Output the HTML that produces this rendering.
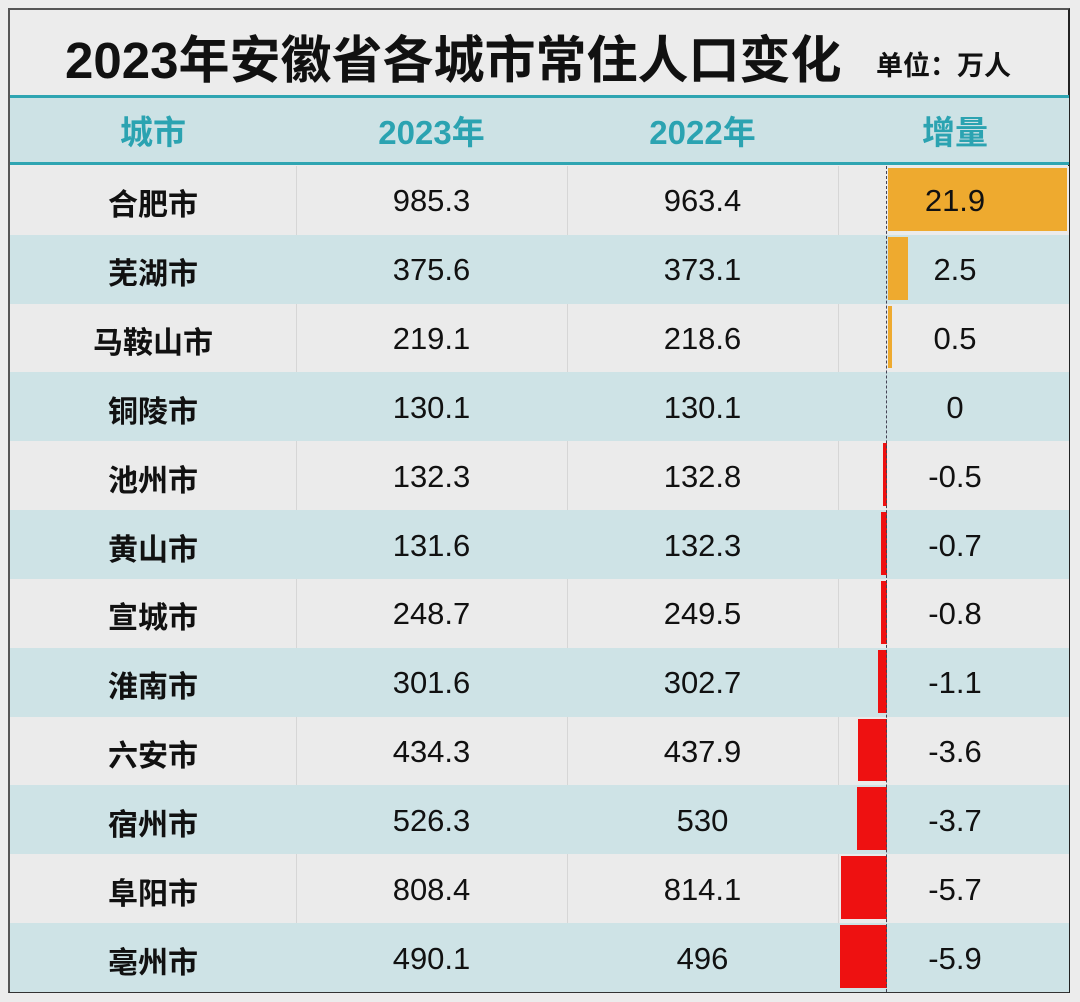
<!DOCTYPE html>
<html><head><meta charset="utf-8"><style>
*{margin:0;padding:0;box-sizing:border-box}
body{width:1080px;height:1002px;background:#ececec;position:relative;overflow:hidden;font-family:"Liberation Sans","Noto Sans CJK SC",sans-serif}
.a{position:absolute}
.t{position:absolute;display:flex;align-items:center;justify-content:center}
</style></head><body>
<div class="a" style="left:8px;top:8px;width:1062px;height:985px;border:2px solid #555;border-right-color:#222;border-bottom-color:#333"></div>
<div class="t" style="left:65px;top:18px;width:790px;height:76px;font-size:51px;font-weight:bold;color:#111;justify-content:flex-start">2023年安徽省各城市常住人口变化</div>
<div class="t" style="left:876px;top:41px;width:170px;height:44px;font-size:27px;font-weight:bold;color:#111;justify-content:flex-start">单位：万人</div>
<div class="a" style="left:10px;top:95px;width:1059px;height:70px;background:#cde2e5;border-top:3px solid #2fa5b2;border-bottom:3px solid #2fa5b2"></div>
<div class="t" style="left:10px;top:97px;width:286px;height:66px;font-size:33px;font-weight:bold;color:#2ba3b1">城市</div>
<div class="t" style="left:296px;top:97px;width:271px;height:66px;font-size:33px;font-weight:bold;color:#2ba3b1">2023年</div>
<div class="t" style="left:567px;top:97px;width:271px;height:66px;font-size:33px;font-weight:bold;color:#2ba3b1">2022年</div>
<div class="t" style="left:850px;top:97px;width:210px;height:66px;font-size:33px;font-weight:bold;color:#2ba3b1">增量</div>
<div id="rows"></div>
<div class="a" style="left:886px;top:166px;height:826px;border-left:1px dashed #445"></div>
<script>
var d=[["合肥市","985.3","963.4",21.9],["芜湖市","375.6","373.1",2.5],["马鞍山市","219.1","218.6",0.5],["铜陵市","130.1","130.1",0],["池州市","132.3","132.8",-0.5],["黄山市","131.6","132.3",-0.7],["宣城市","248.7","249.5",-0.8],["淮南市","301.6","302.7",-1.1],["六安市","434.3","437.9",-3.6],["宿州市","526.3","530",-3.7],["阜阳市","808.4","814.1",-5.7],["亳州市","490.1","496",-5.9]];
var h="",H=68.83;
d.forEach(function(r,i){var y=166+i*H,bg=i%2?"#cee3e6":"#ebebeb";
h+='<div class="a" style="left:10px;top:'+y+'px;width:1059px;height:'+(H+0.5)+'px;background:'+bg+'"></div>';
if(i%2==0){[296,567,838].forEach(function(x){h+='<div class="a" style="left:'+x+'px;top:'+y+'px;width:1px;height:'+H+'px;background:#d6d6d6"></div>'})}
var v=r[3];
if(v>0)h+='<div class="a" style="left:888px;top:'+(y+2)+'px;width:'+Math.max(3,v*8.17)+'px;height:'+(H-6)+'px;background:#eeaa2f"></div>';
if(v<0)h+='<div class="a" style="left:'+(887-(-v)*8)+'px;top:'+(y+2)+'px;width:'+Math.max(3,-v*8)+'px;height:'+(H-6)+'px;background:#ee1111"></div>';
h+='<div class="t" style="left:10px;top:'+(y+2)+'px;width:286px;height:'+H+'px;font-size:30px;font-weight:bold;color:#111">'+r[0]+'</div>';
h+='<div class="t" style="left:296px;top:'+(y+1)+'px;width:271px;height:'+H+'px;font-size:31px;color:#111">'+r[1]+'</div>';
h+='<div class="t" style="left:567px;top:'+(y+1)+'px;width:271px;height:'+H+'px;font-size:31px;color:#111">'+r[2]+'</div>';
h+='<div class="t" style="left:888px;top:'+(y+1)+'px;width:134px;height:'+H+'px;font-size:31px;color:#111">'+v+'</div>';
});
document.getElementById("rows").innerHTML=h;
</script>
</body></html>
